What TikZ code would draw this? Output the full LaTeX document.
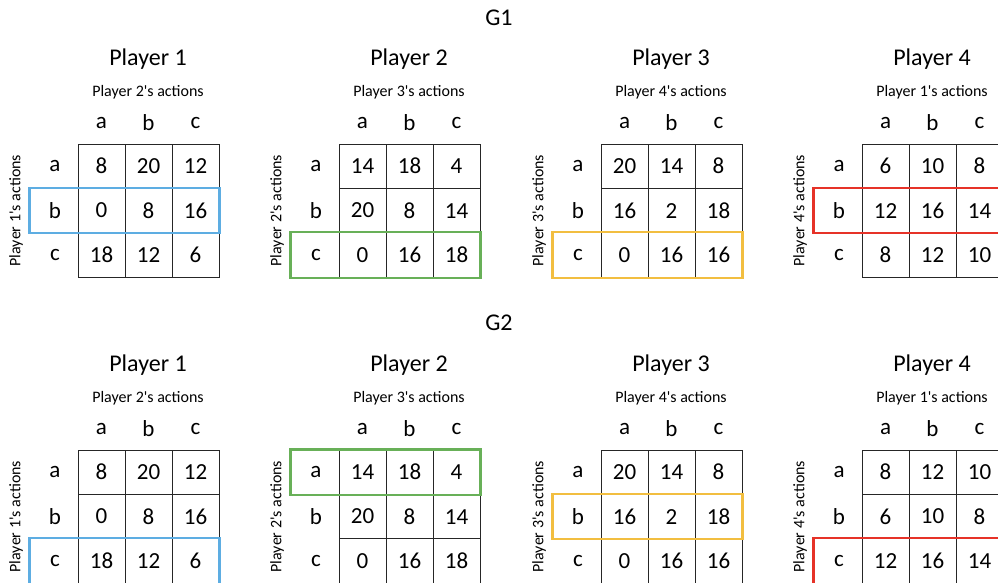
\documentclass[tikz,border=0pt]{standalone}
\usepackage{fontspec}
\setmainfont{Carlito}
\definecolor{hlblue}{RGB}{93,173,226}
\definecolor{hlgreen}{RGB}{104,176,88}
\definecolor{hlyellow}{RGB}{242,190,64}
\definecolor{hlred}{RGB}{230,50,40}
\tikzset{
  gtitle/.style={font=\fontsize{24}{28}\selectfont},
  ptitle/.style={font=\fontsize{24}{28}\selectfont},
  actlabel/.style={font=\fontsize{16}{19}\selectfont},
  axlabel/.style={font=\fontsize{23}{27}\selectfont},
  cell/.style={draw=black!85, line width=0.9pt, minimum width=47pt, minimum height=44.4pt, inner sep=0pt, font=\fontsize{23}{27}\selectfont},
  hl/.style={line width=2.2pt}
}
\newcommand\gamepanel[9]{%
\begin{scope}[shift={(#2,#3)}]
  \node[ptitle] (#1-title) at (70,-85) {Player #4};
  \node[actlabel] (#1-colact) at (70,-52) {Player #5\textquotesingle s actions};
  \node[actlabel, rotate=90] (#1-rowact) at (-62,66.6) {Player #4\textquotesingle s actions};
  \foreach \l [count=\i from 0] in {a,b,c} {
    \node[axlabel] (#1-c\i) at (23.5+47*\i,-21) {\l};
    \node[axlabel] (#1-r\i) at (-23,22.2+44.4*\i) {\l};
  }
  \foreach \v [count=\k from 0] in {#6} {
    \pgfmathtruncatemacro\rr{div(\k,3)}
    \pgfmathtruncatemacro\cc{mod(\k,3)}
    \node[cell] (#1-\rr-\cc) at (23.5+47*\cc,22.2+44.4*\rr) {\v};
  }
  \draw[hl,#8] ([xshift=-48pt]#1-#7-0.north west) rectangle (#1-#7-2.south east);
\end{scope}}
\begin{document}
\begin{tikzpicture}[x=1pt,y=-1pt]
\useasboundingbox (0,0) rectangle (998,582);
\clip (0,0) rectangle (998,582);
\node[gtitle] (g1) at (499,18) {G1};
\node[gtitle] (g2) at (499,323) {G2};
\gamepanel{ga}{78}{144}{1}{2}{8,20,12,0,8,16,18,12,6}{1}{hlblue}{}
\gamepanel{gb}{339}{144}{2}{3}{14,18,4,20,8,14,0,16,18}{2}{hlgreen}{}
\gamepanel{gc}{601}{144}{3}{4}{20,14,8,16,2,18,0,16,16}{2}{hlyellow}{}
\gamepanel{gd}{862}{144}{4}{1}{6,10,8,12,16,14,8,12,10}{1}{hlred}{}
\gamepanel{ha}{78}{450}{1}{2}{8,20,12,0,8,16,18,12,6}{2}{hlblue}{}
\gamepanel{hb}{339}{450}{2}{3}{14,18,4,20,8,14,0,16,18}{0}{hlgreen}{}
\gamepanel{hc}{601}{450}{3}{4}{20,14,8,16,2,18,0,16,16}{1}{hlyellow}{}
\gamepanel{hd}{862}{450}{4}{1}{8,12,10,6,10,8,12,16,14}{2}{hlred}{}
\end{tikzpicture}
\end{document}
